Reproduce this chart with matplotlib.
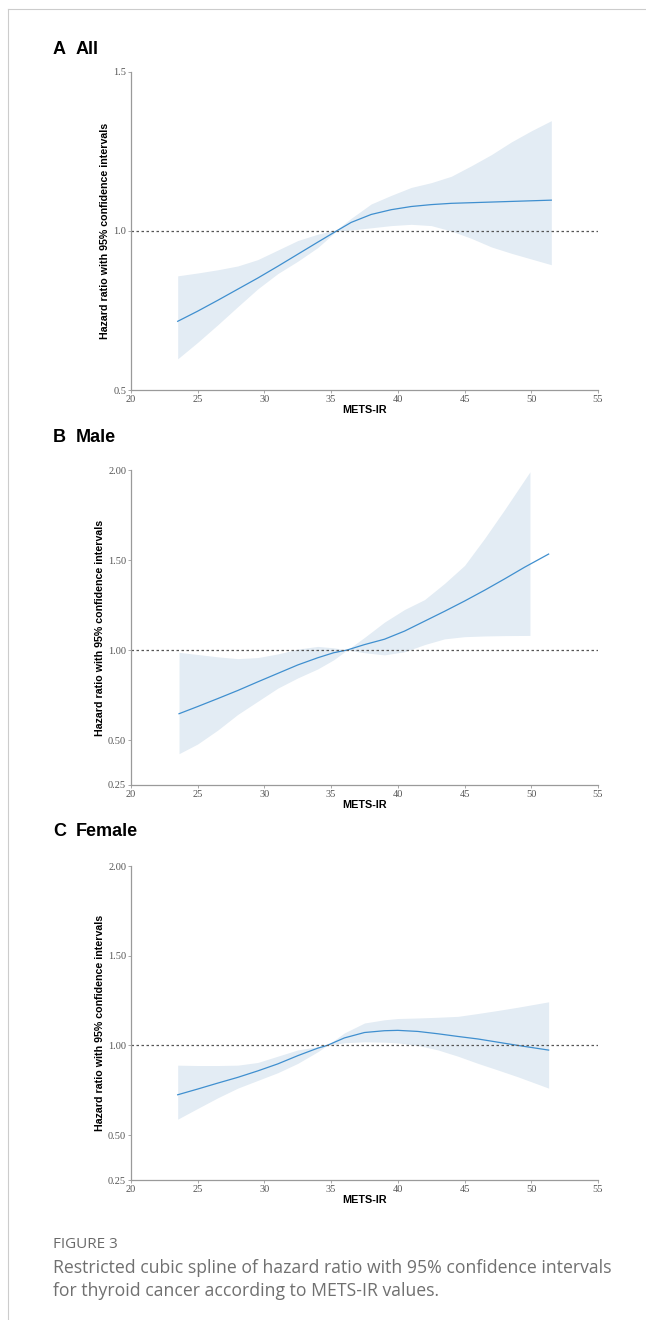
import matplotlib
matplotlib.use("Agg")
import matplotlib.pyplot as plt
from matplotlib.lines import Line2D

# ---- data ----
# Panel A: All
x_a = [23.5, 25, 26.5, 28, 29.5, 31, 32.5, 34, 35.4, 36.5, 38, 39.5, 41, 42.5, 44, 45.5, 47, 48.5, 50, 51.5]
hr_a = [0.716, 0.748, 0.782, 0.817, 0.852, 0.889, 0.927, 0.965, 1.0, 1.027, 1.052, 1.067,
        1.077, 1.083, 1.087, 1.089, 1.091, 1.093, 1.095, 1.097]
lo_a = [0.598, 0.650, 0.705, 0.762, 0.818, 0.866, 0.905, 0.948, 1.0, 1.003, 1.010, 1.017,
        1.021, 1.017, 1.000, 0.977, 0.950, 0.930, 0.912, 0.894]
up_a = [0.859, 0.868, 0.878, 0.890, 0.910, 0.940, 0.970, 0.990, 1.004, 1.040, 1.085, 1.112,
        1.137, 1.152, 1.172, 1.205, 1.240, 1.280, 1.315, 1.347]

# Panel B: Male (band stops before the line)
x_b = [23.6, 25, 26.5, 28, 29.5, 31, 32.5, 34, 35.2, 36.2, 37.5, 39, 40.5, 42, 43.5, 45, 46.5, 48, 49.5, 51.3]
hr_b = [0.646, 0.686, 0.730, 0.775, 0.823, 0.870, 0.917, 0.957, 0.985, 1.0, 1.030, 1.060,
        1.105, 1.160, 1.215, 1.272, 1.332, 1.395, 1.460, 1.533]
x_b_ci = [23.6, 25, 26.5, 28, 29.5, 31, 32.5, 34, 35.2, 36.2, 37.5, 39, 40.5, 42, 43.5, 45, 46.5, 48, 49.9]
lo_b = [0.424, 0.478, 0.555, 0.642, 0.715, 0.788, 0.845, 0.895, 0.946, 1.0, 0.985, 0.973,
        0.990, 1.030, 1.062, 1.074, 1.078, 1.080, 1.081]
up_b = [0.987, 0.975, 0.962, 0.952, 0.958, 0.978, 1.005, 1.020, 1.012, 1.0, 1.070, 1.155,
        1.225, 1.280, 1.370, 1.470, 1.620, 1.780, 1.990]

# Panel C: Female
x_c = [23.5, 25, 26.5, 28, 29.5, 31, 32.5, 34, 34.7, 36, 37.5, 39, 40, 41.5, 43, 44.5, 46, 47.5, 49, 51.3]
hr_c = [0.725, 0.757, 0.790, 0.822, 0.858, 0.897, 0.943, 0.985, 1.0, 1.042, 1.072, 1.082,
        1.084, 1.078, 1.065, 1.050, 1.036, 1.018, 1.0, 0.974]
lo_c = [0.589, 0.649, 0.708, 0.762, 0.805, 0.848, 0.900, 0.965, 1.0, 1.015, 1.020, 1.018,
        1.014, 1.000, 0.975, 0.940, 0.900, 0.863, 0.825, 0.762]
up_c = [0.890, 0.888, 0.888, 0.890, 0.905, 0.940, 0.975, 0.993, 1.0, 1.070, 1.125, 1.143,
        1.150, 1.153, 1.157, 1.162, 1.178, 1.195, 1.213, 1.243]

panels = [
    ("A", "All", x_a, hr_a, x_a, lo_a, up_a, (0.5, 1.5), [0.5, 1.0, 1.5], ["0.5", "1.0", "1.5"]),
    ("B", "Male", x_b, hr_b, x_b_ci, lo_b, up_b, (0.25, 2.0), [0.25, 0.5, 1.0, 1.5, 2.0],
     ["0.25", "0.50", "1.00", "1.50", "2.00"]),
    ("C", "Female", x_c, hr_c, x_c, lo_c, up_c, (0.25, 2.0), [0.25, 0.5, 1.0, 1.5, 2.0],
     ["0.25", "0.50", "1.00", "1.50", "2.00"]),
]
x_ticks = [20, 25, 30, 35, 40, 45, 50, 55]

W, H = 646, 1320
fig = plt.figure(figsize=(W / 100, H / 100), dpi=100)

# axes boxes in pixels: (top, bottom)
boxes = [(72, 390), (470, 785), (866, 1180)]
title_y = [50, 437, 832]
left_px, right_px = 131, 598

LINE_C = "#3f8fcf"
FILL_C = "#e3ecf4"
SPINE_C = "#9a9a9a"

for (letter, name, xl, hr, xci, lo, up, ylim, yt, ytl), (top, bot), ty in zip(panels, boxes, title_y):
    ax = fig.add_axes([left_px / W, 1 - bot / H, (right_px - left_px) / W, (bot - top) / H])
    ax.fill_between(xci, lo, up, color=FILL_C, lw=0)
    ax.plot(xl, hr, color=LINE_C, lw=0.9)
    ax.axhline(1.0, color="#555555", lw=0.9, ls=(0, (2, 2)))
    ax.set_xlim(20, 55)
    ax.set_ylim(*ylim)
    ax.set_xticks(x_ticks)
    ax.set_xticklabels([str(t) for t in x_ticks], family="Liberation Serif", fontsize=7.5, color="#555555")
    ax.set_yticks(yt)
    ax.set_yticklabels(ytl, family="Liberation Serif", fontsize=7.5, color="#555555")
    ax.tick_params(axis="both", length=2.5, width=0.6, color=SPINE_C, pad=1)
    for s in ["top", "right"]:
        ax.spines[s].set_visible(False)
    for s in ["left", "bottom"]:
        ax.spines[s].set_color(SPINE_C)
        ax.spines[s].set_linewidth(0.9)
    ax.set_xlabel("METS-IR", family="Liberation Sans", fontweight="bold", fontsize=7.8, labelpad=1)
    ax.set_ylabel("Hazard ratio with 95% confidence intervals", family="Liberation Sans",
                  fontweight="bold", fontsize=7.7, labelpad=2.5)
    fig.text(53 / W, 1 - ty / H, letter, family="Liberation Sans", fontweight="bold",
             fontsize=13, va="center", ha="left")
    fig.text(76 / W, 1 - ty / H, name, family="Liberation Sans", fontweight="bold",
             fontsize=13, va="center", ha="left")

# caption
fig.text(53 / W, 1 - 1244 / H, "FIGURE 3", family="Open Sans", fontsize=11, color="#6a6a6a",
         va="center", ha="left")
fig.text(53 / W, 1 - 1268 / H,
         "Restricted cubic spline of hazard ratio with 95% confidence intervals",
         family="Open Sans", fontsize=12.7, color="#707070", va="center", ha="left")
fig.text(53 / W, 1 - 1291 / H, "for thyroid cancer according to METS-IR values.",
         family="Open Sans", fontsize=12.7, color="#707070", va="center", ha="left")

# page frame (top and left rules)
fig.add_artist(Line2D([8 / W, 1], [1 - 9 / H, 1 - 9 / H], transform=fig.transFigure,
                      color="#cccccc", lw=0.8))
fig.add_artist(Line2D([8 / W, 8 / W], [0, 1 - 9 / H], transform=fig.transFigure,
                      color="#cccccc", lw=0.8))

fig.savefig("out.png", dpi=100)
